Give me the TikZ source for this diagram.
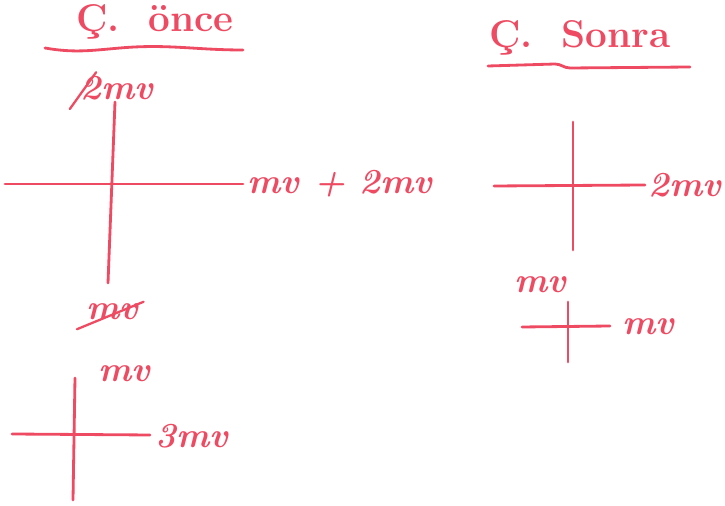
\documentclass[tikz,border=0pt]{standalone}
\usepackage{fontspec}
\usepackage{xcolor}
\usepackage{tikz}
\definecolor{ink}{HTML}{EE4A62}

\begin{document}
\begin{tikzpicture}[
    x=0.02cm, y=-0.02cm,
    pen/.style={draw=ink, line width=1.6pt, line cap=round},
    strike/.style={draw=ink, line width=1.3pt, line cap=round},
    lbl/.style={text=ink, font=\fontsize{20}{22}\selectfont\bfseries\itshape, inner sep=1pt},
    ttl/.style={text=ink, font=\fontsize{22}{24}\selectfont\bfseries, inner sep=1pt}
]
\useasboundingbox (0,0) rectangle (725,506);

% Titles
\node[ttl] (once) at (155, 22) {Ç.\ \ önce};
\node[ttl] (sonra) at (580, 38) {Ç.\ \ Sonra};
\draw[pen] (45, 48) to[out=-10, in=185] (120, 48) to[out=5, in=180] (243, 50);
\draw[pen] (488, 66) -- (555, 64) to[out=0, in=180] (570, 68) -- (690, 67);

% Before: big cross
\coordinate (b1n) at (115, 102);
\coordinate (b1s) at (108, 283);
\coordinate (b1w) at (5, 184);
\coordinate (b1e) at (243, 184);
\draw[pen] (b1n) -- (b1s);
\draw[pen] (b1w) -- (b1e);
\node[lbl] (b1top) at (117, 88) {2mv};
\draw[strike] ([xshift=-5pt, yshift=-4pt]b1top.south west) -- ([xshift=10pt, yshift=1pt]b1top.north west);
\node[lbl] (b1right) at (340, 184) {mv + 2mv};
\node[lbl] (b1bot) at (112, 312) {mv};
\draw[strike] ([xshift=-4pt, yshift=-4pt]b1bot.south west) -- ([xshift=2pt]b1bot.north east);

% Before: small cross
\coordinate (b2n) at (75, 378);
\coordinate (b2s) at (73, 500);
\coordinate (b2w) at (12, 434);
\coordinate (b2e) at (150, 435);
\draw[pen] (b2n) -- (b2s);
\draw[pen] (b2w) -- (b2e);
\node[lbl] (b2top) at (124, 374) {mv};
\node[lbl] (b2right) at (192, 436) {3mv};

% After: upper cross
\coordinate (a1n) at (573, 122);
\coordinate (a1s) at (573, 250);
\coordinate (a1w) at (494, 186);
\coordinate (a1e) at (645, 185);
\draw[pen] (a1n) -- (a1s);
\draw[pen] (a1w) -- (a1e);
\node[lbl] (a1right) at (685, 185) {2mv};

% After: lower cross
\coordinate (a2n) at (568, 302);
\coordinate (a2s) at (568, 362);
\coordinate (a2w) at (522, 327);
\coordinate (a2e) at (610, 326);
\draw[pen] (a2n) -- (a2s);
\draw[pen] (a2w) -- (a2e);
\node[lbl] (a2top) at (540, 285) {mv};
\node[lbl] (a2right) at (648, 327) {mv};
\end{tikzpicture}
\end{document}
